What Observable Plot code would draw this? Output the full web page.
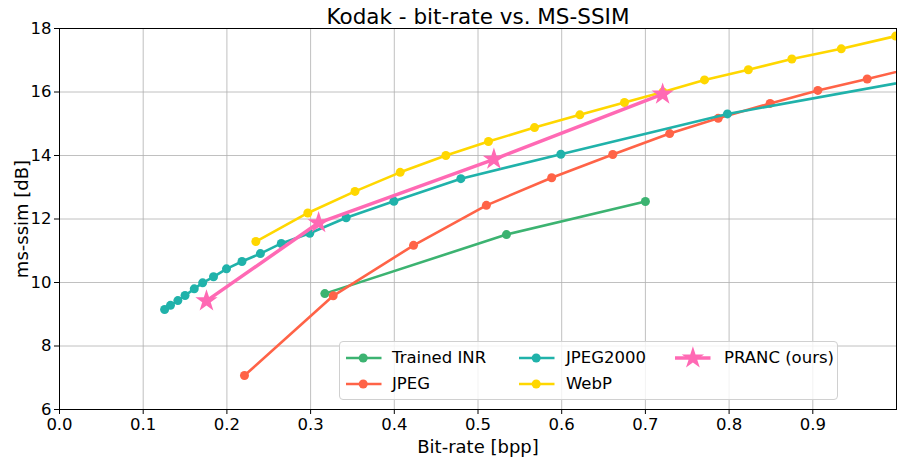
<!DOCTYPE html>
<html>
<head>
<meta charset="utf-8">
<script src="https://cdn.jsdelivr.net/npm/d3@7"></script>
<script src="https://cdn.jsdelivr.net/npm/@observablehq/plot@0.6"></script>
<style>
  html, body { margin: 0; padding: 0; background: #fff; }
  #wrap { position: relative; width: 903px; height: 463px; font-family: "DejaVu Sans", sans-serif; }
  #legend { position: absolute; left: 339px; top: 341px; width: 499px; height: 59px; box-sizing: border-box;
            border: 1px solid #d0d0d0; border-radius: 4px; background: rgba(255,255,255,0.8); }
  #legend span { position: absolute; font-size: 16.5px; line-height: 20px; white-space: nowrap; color: #000; }
  #legend svg { position: absolute; overflow: visible; }
</style>
</head>
<body>
<div id="wrap"></div>
<script>
// ---- data ----
const xTicks = [0.0, 0.1, 0.2, 0.3, 0.4, 0.5, 0.6, 0.7, 0.8, 0.9];
const yTicks = [6, 8, 10, 12, 14, 16, 18];

const inrX = [0.317, 0.534, 0.700];
const inrY = [9.65, 11.51, 12.55];

const jpegX = [0.221, 0.327, 0.423, 0.510, 0.588, 0.661, 0.729, 0.787, 0.849, 0.906, 0.965, 1.023];
const jpegY = [7.07, 9.58, 11.17, 12.43, 13.30, 14.03, 14.69, 15.17, 15.64, 16.05, 16.41, 16.78];

const j2kX = [0.1256, 0.1326, 0.1414, 0.150, 0.161, 0.171, 0.184, 0.1995, 0.218, 0.240, 0.265, 0.299, 0.3425, 0.3995, 0.4795, 0.599, 0.798, 1.10];
const j2kY = [9.15, 9.28, 9.43, 9.59, 9.80, 9.99, 10.18, 10.43, 10.66, 10.91, 11.23, 11.55, 12.04, 12.56, 13.27, 14.04, 15.31, 16.75];

const webpX = [0.2346, 0.2967, 0.353, 0.407, 0.4616, 0.5125, 0.5675, 0.6217, 0.675, 0.721, 0.7706, 0.823, 0.875, 0.934, 0.999];
const webpY = [11.29, 12.19, 12.87, 13.47, 14.00, 14.44, 14.88, 15.28, 15.67, 16.00, 16.38, 16.70, 17.04, 17.36, 17.76];

const prancX = [0.1756, 0.3096, 0.519, 0.7206];
const prancY = [9.42, 11.88, 13.88, 15.93];

const seriesNames = ["Trained INR", "JPEG", "JPEG2000", "WebP", "PRANC (ours)"];
const seriesColors = ["#3cb371", "#ff6347", "#20b2aa", "#ffd700", "#ff69b4"];
const seriesX = [inrX, jpegX, j2kX, webpX, prancX];
const seriesY = [inrY, jpegY, j2kY, webpY, prancY];

// ---- build marks ----
const marks = [
  Plot.gridX(xTicks, {stroke: "#b0b0b0", strokeOpacity: 1, strokeWidth: 0.8}),
  Plot.gridY(yTicks, {stroke: "#b0b0b0", strokeOpacity: 1, strokeWidth: 0.8})
];
seriesNames.forEach((name, i) => {
  const rows = seriesX[i].map((x, k) => ({x, y: seriesY[i][k]}));
  const isPranc = i === 4;
  marks.push(Plot.line(rows, {x: "x", y: "y", stroke: seriesColors[i], strokeWidth: isPranc ? 3.5 : 2.6, clip: true}));
  marks.push(Plot.dot(rows, {x: "x", y: "y", fill: seriesColors[i], stroke: "none",
    symbol: isPranc ? "star" : "circle", r: isPranc ? 7 : 4.5, clip: true}));
});
marks.push(Plot.frame({stroke: "#000", strokeWidth: 1}));
marks.push(Plot.axisX(xTicks, {tickFormat: d3.format(".1f"), tickSize: 5, tickPadding: 4, fontSize: 16.5, label: null, stroke: "#000"}));
marks.push(Plot.axisY(yTicks, {tickFormat: d => String(d), tickSize: 5, tickPadding: 3, fontSize: 16.5, label: null, stroke: "#000"}));
marks.push(Plot.text(["Kodak - bit-rate vs. MS-SSIM"], {frameAnchor: "top", dy: -11.6, lineAnchor: "middle", textAnchor: "middle", fontSize: 21.5, fill: "#000"}));
marks.push(Plot.text(["Bit-rate [bpp]"], {frameAnchor: "bottom", dy: 38, lineAnchor: "middle", textAnchor: "middle", fontSize: 18, fill: "#000"}));
marks.push(Plot.text(["ms-ssim [dB]"], {frameAnchor: "left", dx: -37, rotate: -90, lineAnchor: "middle", textAnchor: "middle", fontSize: 18, fill: "#000"}));

const chart = Plot.plot({
  width: 903, height: 463,
  marginLeft: 59, marginRight: 7, marginTop: 28, marginBottom: 54,
  style: {fontFamily: "DejaVu Sans, sans-serif", fontSize: "16.5px", color: "#000", background: "#fff", overflow: "visible"},
  x: {domain: [0, 1.0]},
  y: {domain: [6, 18]},
  marks
});
const wrap = document.getElementById("wrap");
wrap.appendChild(chart);

// ---- legend (matplotlib style, inside the plot) ----
const legend = document.createElement("div");
legend.id = "legend";
wrap.appendChild(legend);
const ns = "http://www.w3.org/2000/svg";
const cols = [[6, 52], [179, 226], [335, 384]];
const rowsY = [15.7, 42.3];
const starPath = d3.symbol(d3.symbolStar).size(Math.PI * 7 * 7)();
seriesNames.forEach((name, i) => {
  const col = Math.floor(i / 2), row = i % 2;
  const [lx, tx] = cols[col];
  const cy = rowsY[row];
  const svg = document.createElementNS(ns, "svg");
  svg.setAttribute("width", 36); svg.setAttribute("height", 24);
  svg.style.left = lx + "px"; svg.style.top = (cy - 12) + "px";
  const ln = document.createElementNS(ns, "line");
  ln.setAttribute("x1", 0); ln.setAttribute("x2", 35.5); ln.setAttribute("y1", 12); ln.setAttribute("y2", 12);
  ln.setAttribute("stroke", seriesColors[i]); ln.setAttribute("stroke-width", i === 4 ? 3.5 : 2.6);
  svg.appendChild(ln);
  if (i === 4) {
    const p = document.createElementNS(ns, "path");
    p.setAttribute("d", starPath); p.setAttribute("transform", "translate(17.9,12)");
    p.setAttribute("fill", seriesColors[i]);
    svg.appendChild(p);
  } else {
    const c = document.createElementNS(ns, "circle");
    c.setAttribute("cx", 17.2); c.setAttribute("cy", 12); c.setAttribute("r", 4.5);
    c.setAttribute("fill", seriesColors[i]);
    svg.appendChild(c);
  }
  legend.appendChild(svg);
  const sp = document.createElement("span");
  sp.textContent = name;
  sp.style.left = tx + "px"; sp.style.top = (cy - 10) + "px";
  legend.appendChild(sp);
});
</script>
</body>
</html>
